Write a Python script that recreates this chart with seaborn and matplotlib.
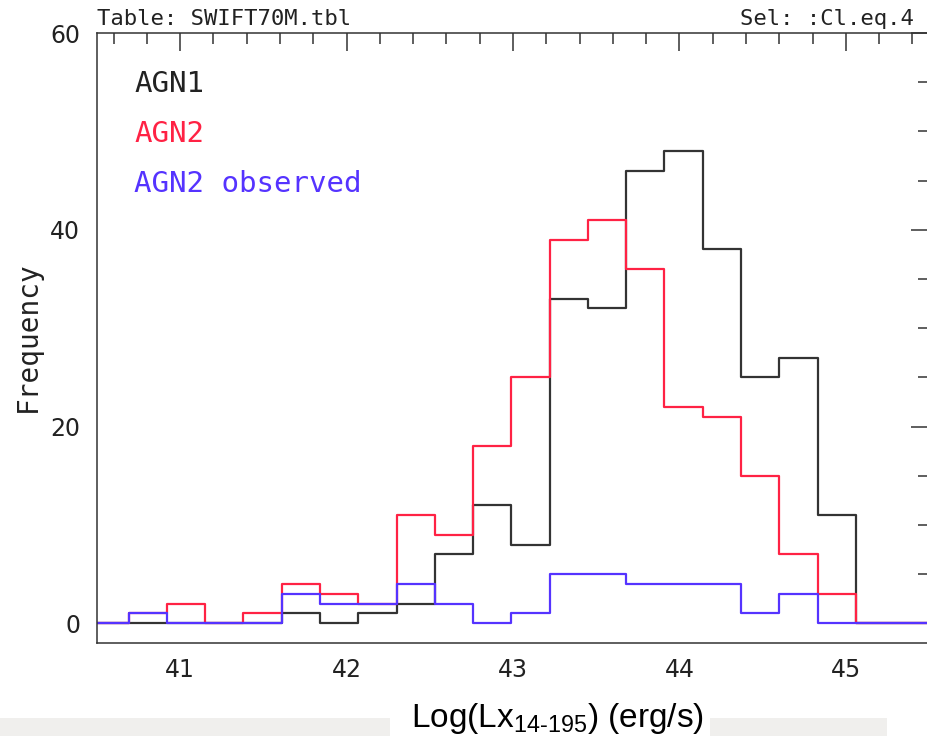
import matplotlib
matplotlib.use("Agg")
import numpy as np
import pandas as pd
import seaborn as sns
import matplotlib.pyplot as plt
from matplotlib.ticker import MultipleLocator, FixedLocator
from matplotlib.patches import Rectangle

# ---- data ----
bin_edges = [40.69, 40.92, 41.15, 41.38, 41.61, 41.84, 42.07, 42.30, 42.53, 42.76,
             42.99, 43.22, 43.45, 43.68, 43.91, 44.14, 44.37, 44.60, 44.83, 45.06]
agn1_counts = [0, 0, 0, 0, 1, 0, 1, 2, 7, 12, 8, 33, 32, 46, 48, 38, 25, 27, 11]
agn2_counts = [1, 2, 0, 1, 4, 3, 2, 11, 9, 18, 25, 39, 41, 36, 22, 21, 15, 7, 3]
agn2_obs_counts = [1, 0, 0, 0, 3, 2, 2, 4, 2, 0, 1, 5, 5, 4, 4, 4, 1, 3, 0]
series_names = ["AGN1", "AGN2", "AGN2 observed"]
x_ticks = [41, 42, 43, 44, 45]
y_ticks = [0, 20, 40, 60]

colors = {"AGN1": "#333333", "AGN2": "#ff2244", "AGN2 observed": "#5533ff"}
text_colors = {"AGN1": "#222222", "AGN2": "#ff2244", "AGN2 observed": "#5533ff"}

sns.set_theme(style="white")
plt.rcParams["font.family"] = ["DejaVu Sans"]
plt.rcParams["mathtext.fontset"] = "custom"
plt.rcParams["mathtext.rm"] = "Liberation Sans"
plt.rcParams["mathtext.it"] = "Liberation Sans"

W, H = 927, 736
fig = plt.figure(figsize=(W / 100, H / 100), dpi=100)
fig.patch.set_facecolor("white")

def fx(px):
    return px / W

def fy(py):
    return 1 - py / H

ax = fig.add_axes([97 / W, 93 / H, 832 / W, 610 / H])
xmin, xmax = 40.5, 45.5

rows = []
for name, counts in zip(series_names, [agn1_counts, agn2_counts, agn2_obs_counts]):
    xs = [xmin] + bin_edges + [xmax]
    ys = [0] + counts + [0, 0]
    for i, (xv, yv) in enumerate(zip(xs, ys)):
        rows.append({"series": name, "x": xv, "y": yv, "order": i})
df = pd.DataFrame(rows)

sns.lineplot(data=df, x="x", y="y", hue="series", hue_order=series_names,
             palette=colors, drawstyle="steps-post", estimator=None, sort=False,
             legend=False, linewidth=1.6, ax=ax)

ax.set_xlim(xmin, xmax)
ax.set_ylim(-2, 60)
ax.xaxis.set_major_locator(FixedLocator(x_ticks))
ax.xaxis.set_minor_locator(MultipleLocator(0.2))
ax.yaxis.set_major_locator(FixedLocator(y_ticks))
ax.yaxis.set_minor_locator(MultipleLocator(5))
ax.grid(False)
ax.set_xlabel("")
ax.set_ylabel("")
for s in ax.spines.values():
    s.set_color("#333333")
    s.set_linewidth(1.1)
ax.tick_params(which="both", direction="in", top=True, right=True,
               color="#333333", width=1.1, labelcolor="#222222")
ax.tick_params(which="major", length=13, labelsize=17)
ax.tick_params(axis="x", which="major", pad=11)
ax.tick_params(axis="y", which="major", pad=12)
ax.tick_params(which="minor", length=8)

mono = "DejaVu Sans Mono"
# legend-like labels
for name, base in zip(series_names, [92, 142, 192]):
    fig.text(fx(134), fy(base), name, color=text_colors[name], fontsize=21,
             family=mono, ha="left", va="baseline")

fig.text(fx(97), fy(25), "Table: SWIFT70M.tbl", fontsize=16, family=mono,
         color="#222222", ha="left", va="baseline")
fig.text(fx(914), fy(25), "Sel: :Cl.eq.4", fontsize=16, family=mono,
         color="#222222", ha="right", va="baseline")
fig.text(fx(28), fy(337), "Frequency", fontsize=20, family=mono, rotation=90,
         color="#222222", ha="center", va="center")

# gray background strips at bottom
fig.patches.append(Rectangle((0, 0), fx(390), 18 / H, transform=fig.transFigure,
                             facecolor="#f0efed", edgecolor="none", zorder=0))
fig.patches.append(Rectangle((fx(710), 0), fx(887) - fx(710), 18 / H,
                             transform=fig.transFigure, facecolor="#f0efed",
                             edgecolor="none", zorder=0))

fig.text(fx(557), fy(727), r"Log(Lx$_{\mathrm{14‐195}}$) (erg/s)", fontsize=24,
         family="Liberation Sans", color="black", ha="center", va="baseline")

fig.savefig("out.png", dpi=100)
